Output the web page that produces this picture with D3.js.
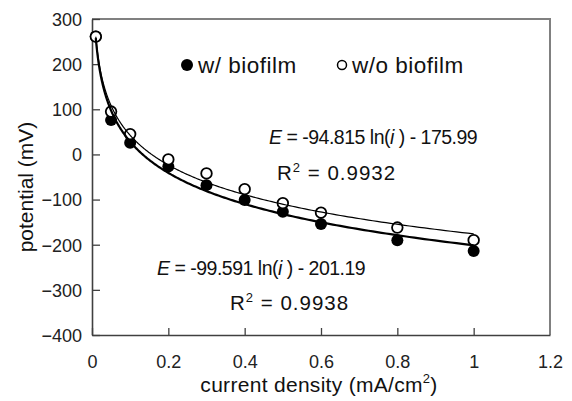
<!DOCTYPE html>
<html>
<head>
<meta charset="utf-8">
<script src="https://cdn.jsdelivr.net/npm/d3@7"></script>
<style>
  body { margin: 0; background: #fff; }
  svg { font-family: "Liberation Sans", Arial, sans-serif; }
</style>
</head>
<body>
<div id="chart"></div>
<script>
// data
var currentDensity = [0.01, 0.05, 0.1, 0.2, 0.3, 0.4, 0.5, 0.6, 0.8, 1.0];
var withBiofilm    = [261, 76, 26, -27, -68, -101, -127, -154, -190, -214];
var withoutBiofilm = [261, 95, 45, -11, -42, -77, -108, -129, -162, -190];
var xTicks = [0, 0.2, 0.4, 0.6, 0.8, 1, 1.2];
var yTicks = [-400, -300, -200, -100, 0, 100, 200, 300];
// log trendlines E = a ln(i) + b, as printed on the chart
var fitSlope     = [-99.591, -94.815];   // w/, w/o
var fitIntercept = [-201.19, -175.99];
var fitR2        = ["0.9938", "0.9932"];

var width = 572, height = 401;
var plotLeft = 92, plotRight = 550, plotTop = 19, plotBottom = 335;

var svg = d3.select('#chart')
  .append('svg')
  .attr('width', width)
  .attr('height', height);

var x = d3.scaleLinear().domain([0, 1.2]).range([plotLeft, plotRight]);
var y = d3.scaleLinear().domain([-400, 300]).range([plotBottom, plotTop]);

// plot area border (top / right grey)
svg.append('path')
  .attr('d', 'M' + plotLeft + ',' + plotTop + 'H' + plotRight + 'V' + plotBottom)
  .attr('fill', 'none')
  .attr('stroke', '#808080')
  .attr('stroke-width', 2);

// axes, ticks inside
var xAxis = svg.append('g')
  .attr('transform', 'translate(0,' + plotBottom + ')')
  .call(d3.axisBottom(x).tickValues(xTicks).tickSizeInner(-7).tickSizeOuter(0)
    .tickFormat(function (d) {return d3.format('~g')(d);}));
var yAxis = svg.append('g')
  .attr('transform', 'translate(' + plotLeft + ',0)')
  .call(d3.axisLeft(y).tickValues(yTicks).tickSizeInner(-8).tickSizeOuter(0));

[xAxis, yAxis].forEach(function (g) {
  g.select('.domain').attr('stroke', '#404040').attr('stroke-width', 1.6);
  g.selectAll('.tick line').attr('stroke', '#404040').attr('stroke-width', 1.3);
  g.selectAll('.tick text')
    .attr('font-family', '"Liberation Sans", Arial, sans-serif')
    .attr('font-size', 18)
    .attr('fill', '#222');
});
xAxis.selectAll('.tick text').attr('y', 20).attr('dy', '0.71em');
yAxis.selectAll('.tick text').attr('x', -10).attr('dy', '0.35em');
// the 1.2 end sits on the grey border
xAxis.selectAll('.tick line').filter(function (d) {return d === 1.2;}).remove();

// markers: filled first, open on top
svg.append('g').selectAll('circle')
  .data(currentDensity)
  .enter()
  .append('circle')
  .attr('cx', function (d) {return x(d);})
  .attr('cy', function (d, i) {return y(withBiofilm[i]);})
  .attr('r', 6)
  .attr('fill', '#000');

svg.append('g').selectAll('circle')
  .data(currentDensity)
  .enter()
  .append('circle')
  .attr('cx', function (d) {return x(d);})
  .attr('cy', function (d, i) {return y(withoutBiofilm[i]);})
  .attr('r', 5.3)
  .attr('fill', '#fff')
  .attr('stroke', '#000')
  .attr('stroke-width', 1.8);

// trendlines over the span of the data
var xs = d3.range(0, 301).map(function (k) {
  var lo = Math.log(currentDensity[0]), hi = Math.log(currentDensity[currentDensity.length - 1]);
  return Math.exp(lo + (hi - lo) * k / 300);
});
var line = d3.line()
  .x(function (d) {return x(d[0]);})
  .y(function (d) {return y(d[1]);});
var lineWidths = [2.2, 1.2];
fitSlope.forEach(function (a, j) {
  svg.append('path')
    .datum(xs.map(function (v) {return [v, a * Math.log(v) + fitIntercept[j]];}))
    .attr('d', line)
    .attr('fill', 'none')
    .attr('stroke', '#000')
    .attr('stroke-width', lineWidths[j]);
});

// equation labels
function equation(xPos, yPos, a, b) {
  var t = svg.append('text')
    .attr('x', xPos).attr('y', yPos)
    .attr('font-size', 19.5)
    .attr('letter-spacing', -0.5)
    .attr('fill', '#111');
  t.append('tspan').attr('font-style', 'italic').text('E');
  t.append('tspan').text(' = ' + a + ' ln(');
  t.append('tspan').attr('font-style', 'italic').text('i');
  t.append('tspan').text(' ) - ' + b);
}
function r2(xPos, yPos, v) {
  var t = svg.append('text')
    .attr('x', xPos).attr('y', yPos)
    .attr('font-size', 20.5)
    .attr('letter-spacing', 1)
    .attr('fill', '#111');
  t.append('tspan').text('R');
  t.append('tspan').attr('font-size', 13).attr('dy', -8).text('2');
  t.append('tspan').attr('dy', 8).text(' = ' + v);
}
equation(269, 144, fitSlope[1], (-fitIntercept[1]).toFixed(2));
r2(277, 180, fitR2[1]);
equation(157, 275, fitSlope[0], (-fitIntercept[0]).toFixed(2));
r2(230, 310, fitR2[0]);

// legend
var legend = svg.append('g').attr('font-size', 22.5).attr('letter-spacing', 0.5).attr('fill', '#111');
legend.append('circle').attr('cx', 187).attr('cy', 65).attr('r', 6).attr('fill', '#000');
legend.append('text').attr('x', 198).attr('y', 73).text('w/ biofilm');
legend.append('circle').attr('cx', 342).attr('cy', 65).attr('r', 4.5)
  .attr('fill', '#fff').attr('stroke', '#000').attr('stroke-width', 1.5);
legend.append('text').attr('x', 352).attr('y', 73).text('w/o biofilm');

// axis titles
var xTitle = svg.append('text')
  .attr('x', (plotLeft + plotRight) / 2 - 2)
  .attr('y', 392)
  .attr('text-anchor', 'middle')
  .attr('font-size', 21)
  .attr('letter-spacing', 0.3)
  .attr('fill', '#111');
xTitle.append('tspan').text('current density (mA/cm');
xTitle.append('tspan').attr('font-size', 13).attr('dy', -9).text('2');
xTitle.append('tspan').attr('dy', 9).text(')');

svg.append('text')
  .attr('transform', 'translate(33,187) rotate(-90)')
  .attr('text-anchor', 'middle')
  .attr('font-size', 21)
  .attr('fill', '#111')
  .text('potential (mV)');
</script>
</body>
</html>
